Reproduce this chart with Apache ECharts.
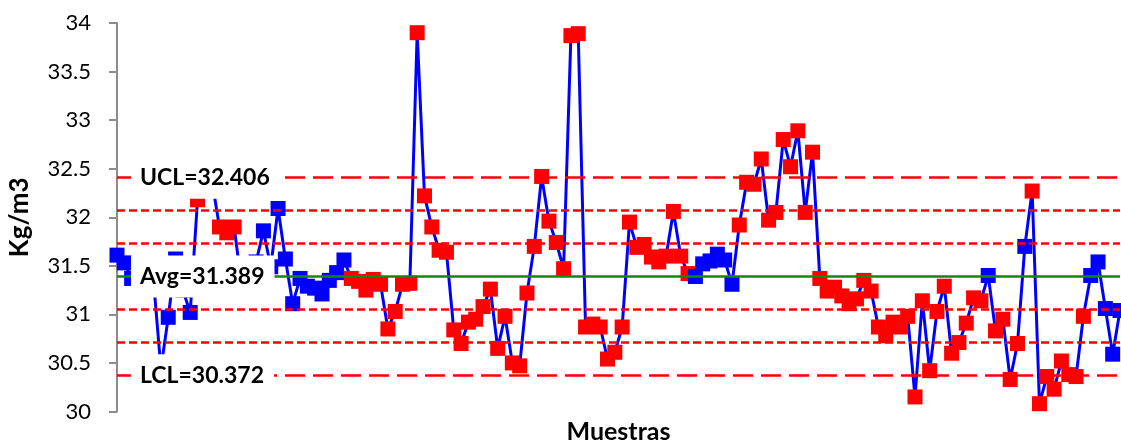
<!DOCTYPE html>
<html>
<head>
<meta charset="utf-8">
<script src="https://cdn.jsdelivr.net/npm/echarts@6/dist/echarts.min.js"></script>
<style>
  html, body { margin: 0; padding: 0; background: #ffffff; }
  #chart { width: 1121px; height: 443px; }
</style>
</head>
<body>
<div id="chart"></div>
<script>
// Density of each sample (Kg/m3), in sampling order
const density = [
  31.61, 31.53, 31.37, 31.45, 31.30, 31.34, 30.44, 30.97, 31.57, 31.25,
  31.02, 32.18, 32.30, 32.36, 31.90, 31.84, 31.90, 31.32, 31.45, 31.54,
  31.86, 31.49, 32.09, 31.57, 31.11, 31.37, 31.29, 31.27, 31.21, 31.35,
  31.43, 31.56, 31.37, 31.34, 31.25, 31.36, 31.31, 30.85, 31.03, 31.31,
  31.32, 33.90, 32.22, 31.90, 31.66, 31.64, 30.84, 30.70, 30.92, 30.95,
  31.08, 31.26, 30.65, 30.98, 30.50, 30.47, 31.22, 31.70, 32.42, 31.96,
  31.74, 31.47, 33.87, 33.89, 30.87, 30.90, 30.87, 30.54, 30.61, 30.87,
  31.95, 31.69, 31.72, 31.59, 31.54, 31.60, 32.06, 31.60, 31.42, 31.39,
  31.52, 31.55, 31.62, 31.56, 31.31, 31.92, 32.36, 32.34, 32.60, 31.97,
  32.05, 32.80, 32.52, 32.89, 32.05, 32.67, 31.37, 31.24, 31.28, 31.19,
  31.11, 31.16, 31.35, 31.24, 30.87, 30.78, 30.92, 30.87, 30.98, 30.15,
  31.14, 30.42, 31.03, 31.29, 30.60, 30.71, 30.91, 31.17, 31.14, 31.40,
  30.83, 30.95, 30.33, 30.70, 31.70, 32.27, 30.08, 30.36, 30.23, 30.52,
  30.38, 30.36, 30.98, 31.40, 31.54, 31.06, 30.59, 31.04
];

// 1 = sample flagged by a control rule, 0 = in control
const flagged = [
  0, 0, 0, 0, 0, 0, 0, 0, 0, 0,
  0, 1, 1, 1, 1, 1, 1, 0, 0, 0,
  0, 0, 0, 0, 0, 0, 0, 0, 0, 0,
  0, 0, 1, 1, 1, 1, 1, 1, 1, 1,
  1, 1, 1, 1, 1, 1, 1, 1, 1, 1,
  1, 1, 1, 1, 1, 1, 1, 1, 1, 1,
  1, 1, 1, 1, 1, 1, 1, 1, 1, 1,
  1, 1, 1, 1, 1, 1, 1, 1, 1, 0,
  0, 0, 0, 0, 0, 1, 1, 1, 1, 1,
  1, 1, 1, 1, 1, 1, 1, 1, 1, 1,
  1, 1, 1, 1, 1, 1, 1, 1, 1, 1,
  1, 1, 1, 1, 1, 1, 1, 1, 1, 0,
  1, 1, 1, 1, 0, 1, 1, 1, 1, 1,
  1, 1, 1, 0, 0, 0, 0, 0
];

// Sample numbers along the horizontal axis
const samples = density.map((_, i) => String(i + 1));

// Control limits
const centerLine = 31.389;
const upperLimit = 32.406;
const lowerLimit = 30.372;
// One- and two-sigma zone boundaries
const zoneLines = [30.711, 31.050, 31.728, 32.067];

// Vertical scale
const yMin = 30;
const yMax = 34;
const yStep = 0.5;

const RED = '#ff0000';
const BLUE = '#0000ff';
const GREEN = '#0b8a0b';
const FONT = 'Lato, "Open Sans", sans-serif';

const points = density.map((v, i) => ({
  value: v,
  itemStyle: { color: flagged[i] ? RED : BLUE }
}));

const limitLines = [
  { yAxis: upperLimit, lineStyle: { color: RED, width: 2.5, type: [20, 8] } },
  { yAxis: lowerLimit, lineStyle: { color: RED, width: 2.5, type: [20, 8] } },
  ...zoneLines.map(v => ({ yAxis: v, lineStyle: { color: RED, width: 2.5, type: [8, 4] } })),
  { yAxis: centerLine, lineStyle: { color: GREEN, width: 2.5, type: 'solid' } }
];

const limitTags = [
  { name: 'UCL', value: upperLimit },
  { name: 'Avg', value: centerLine },
  { name: 'LCL', value: lowerLimit }
].map(t => ({
  coord: [samples[0], t.value],
  value: t.name + '=' + t.value.toFixed(3)
}));

const chart = echarts.init(document.getElementById('chart'), null, { renderer: 'canvas' });

chart.setOption({
  animation: false,
  backgroundColor: '#ffffff',
  grid: {
    left: 117, right: 1, top: 23, bottom: 31.5,
    containLabel: false,
    outerBoundsMode: 'none'
  },
  xAxis: {
    type: 'category',
    data: samples,
    boundaryGap: false,
    axisLine: { show: false },
    axisTick: { show: false },
    axisLabel: { show: false },
    splitLine: { show: false },
    name: 'Muestras',
    nameLocation: 'middle',
    nameGap: 8,
    nameTextStyle: { fontFamily: FONT, fontWeight: 'bold', fontSize: 25, color: '#000000' }
  },
  yAxis: {
    type: 'value',
    min: yMin,
    max: yMax,
    interval: yStep,
    axisLine: { show: true, lineStyle: { color: '#8c8c8c', width: 2 } },
    axisTick: { show: true, inside: false, length: 8, lineStyle: { color: '#8c8c8c', width: 2 } },
    axisLabel: { margin: 26, fontFamily: FONT, fontSize: 22, color: '#000000' },
    splitLine: { show: false },
    name: 'Kg/m3',
    nameLocation: 'middle',
    nameGap: 84,
    nameRotate: 90,
    nameTextStyle: { fontFamily: FONT, fontWeight: 'bold', fontSize: 26, color: '#000000' }
  },
  series: [
    {
      name: 'Densidad',
      type: 'line',
      data: points,
      z: 2,
      symbol: 'rect',
      symbolSize: 15,
      showAllSymbol: true,
      lineStyle: { color: BLUE, width: 3 },
      itemStyle: { color: BLUE },
      emphasis: { disabled: true },
      silent: true
    },
    {
      name: 'Límites',
      type: 'line',
      data: [],
      z: 3,
      silent: true,
      markLine: {
        silent: true,
        symbol: ['none', 'none'],
        label: { show: false },
        emphasis: { disabled: true },
        data: limitLines
      }
    },
    {
      name: 'Etiquetas',
      type: 'line',
      data: [],
      z: 5,
      silent: true,
      markPoint: {
        silent: true,
        symbol: 'rect',
        symbolSize: 0,
        itemStyle: { color: 'transparent' },
        label: {
          show: true,
          position: 'right',
          distance: 14,
          formatter: p => p.value,
          backgroundColor: '#ffffff',
          padding: [7, 10, 7, 9],
          lineHeight: 28,
          fontFamily: FONT,
          fontWeight: 'bold',
          fontSize: 23,
          color: '#000000'
        },
        data: limitTags
      }
    }
  ]
});
</script>
</body>
</html>
